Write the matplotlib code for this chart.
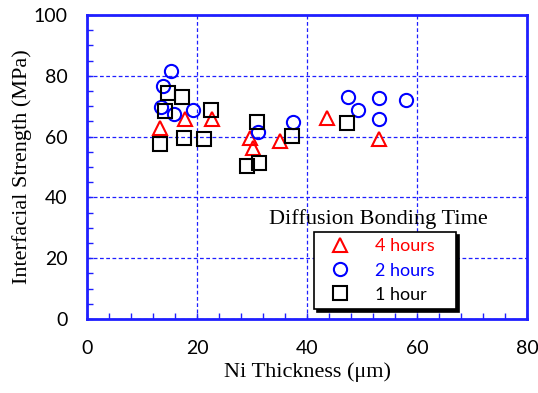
import matplotlib
matplotlib.use('Agg')
import matplotlib.pyplot as plt
from matplotlib.ticker import MultipleLocator

# --- data (Ni thickness um, strength MPa) -------------------------------------
x_4h = [13.3, 17.9, 22.7, 29.7, 30.2, 35.1, 43.7, 53.0]
y_4h = [62.9, 65.8, 65.8, 59.6, 56.4, 58.6, 66.0, 59.1]
x_2h = [15.3, 13.8, 13.5, 15.9, 19.2, 31.0, 37.4, 47.5, 49.2, 53.0, 53.0, 58.0]
y_2h = [81.7, 76.6, 69.8, 67.4, 68.8, 61.5, 64.8, 73.1, 68.8, 72.8, 65.8, 72.0]
x_1h = [14.8, 17.2, 14.1, 22.6, 13.3, 17.7, 21.3, 30.9, 29.0, 31.3, 37.3, 47.3]
y_1h = [74.4, 73.1, 68.4, 68.8, 57.5, 59.6, 59.2, 64.7, 50.4, 51.2, 60.2, 64.4]

BLUE = '#1f1fff'
SANS = ['Lato', 'DejaVu Sans']
SERIF = ['Liberation Serif', 'DejaVu Serif']

fig = plt.figure(figsize=(5.38, 3.93), dpi=100)
ax = fig.add_axes([0.1617, 0.1883, 0.8179, 0.7735])

kw = dict(ls='none', ms=9.5, mew=1.5, mfc='none')
ax.plot(x_4h, y_4h, marker='^', mec='#ff0000', label='4 hours', **kw)
ax.plot(x_2h, y_2h, marker='o', mec='#0000ff', label='2 hours', **kw)
ax.plot(x_1h, y_1h, marker='s', mec='black', label='1 hour', **kw)

ax.set_xlim(0, 80); ax.set_ylim(0, 100)
ax.xaxis.set_major_locator(MultipleLocator(20))
ax.yaxis.set_major_locator(MultipleLocator(20))
ax.xaxis.set_minor_locator(MultipleLocator(4))
ax.yaxis.set_minor_locator(MultipleLocator(5))
ax.tick_params(which='both', direction='in', length=4, width=1, color=BLUE,
               labelsize=14)
ax.tick_params(axis='x', pad=15)
ax.tick_params(axis='y', pad=14)
for lab in ax.get_xticklabels() + ax.get_yticklabels():
    lab.set_family(SANS)
ax.grid(True, which='major', color=BLUE, ls=(0, (3, 2)), lw=0.9)
for s in ax.spines.values():
    s.set_color(BLUE); s.set_linewidth(2)

ax.set_xlabel('Ni Thickness (\u03bcm)', family=SERIF, fontsize=16, labelpad=4)
ax.set_ylabel('Interfacial Strength (MPa)', family=SERIF, fontsize=16, labelpad=1)

ax.text(0.662, 0.329, 'Diffusion Bonding Time', transform=ax.transAxes,
        ha='center', va='center', family=SERIF, fontsize=16)

leg = ax.legend(loc='upper left', bbox_to_anchor=(0.516, 0.046, 0.323, 0.240),
                mode='expand', borderaxespad=0,
                numpoints=1, fancybox=False, framealpha=1, edgecolor='black',
                prop={'family': SANS, 'size': 13}, borderpad=0.35,
                labelspacing=0.45, handlelength=2.2, handletextpad=0.85,
                shadow={'color': 'black', 'alpha': 1})
leg.get_frame().set_linewidth(1.2)
for t, c in zip(leg.get_texts(), ['#ff0000', '#0000ff', 'black']):
    t.set_color(c)

fig.savefig('out.png', dpi=100)
